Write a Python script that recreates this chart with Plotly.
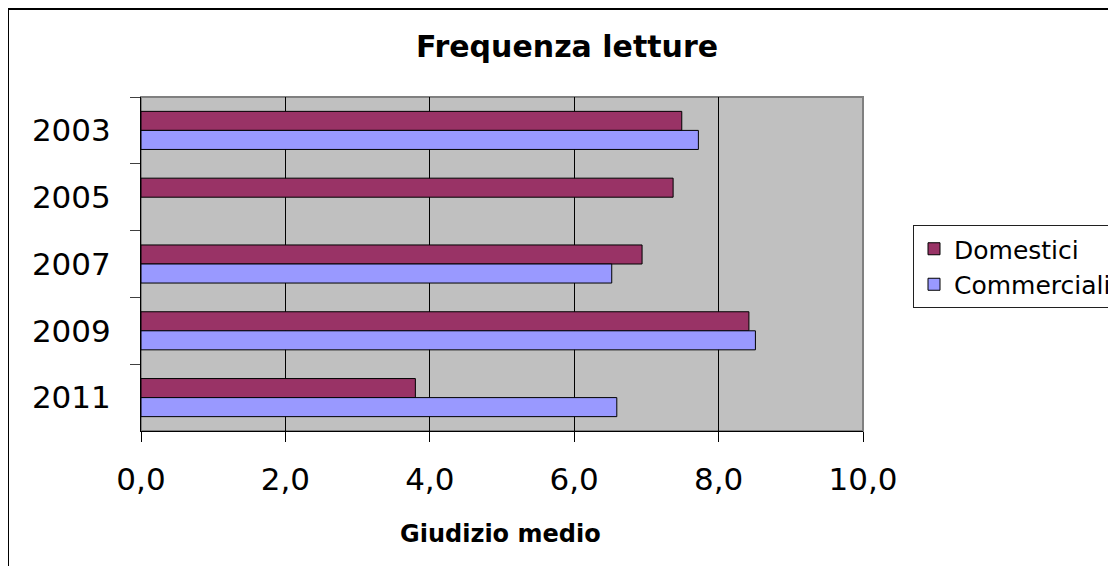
import plotly.graph_objects as go

years = ["2003", "2005", "2007", "2009", "2011"]
domestici = [7.49, 7.37, 6.94, 8.42, 3.80]
commerciali = [7.72, None, 6.52, 8.51, 6.59]
series_names = ["Domestici", "Commerciali"]
x_ticks = [0, 2, 4, 6, 8, 10]

OFF = 8  # default page body margin
W, H = 1116 - OFF, 566 - OFF
L, R, T, B = 141 - OFF, 863 - OFF, 97 - OFF, 431 - OFF  # plot area in figure pixels

def px_x(p):
    return (p - OFF - L) / (R - L)

def px_y(p):
    return (B - (p - OFF)) / (B - T)

FONT = "DejaVu Sans, Verdana, sans-serif"

fig = go.Figure()
fig.add_trace(go.Bar(
    y=years, x=domestici, name=series_names[0], orientation="h",
    marker=dict(color="#993366", line=dict(color="black", width=1)),
))
fig.add_trace(go.Bar(
    y=years, x=commerciali, name=series_names[1], orientation="h",
    marker=dict(color="#9999FF", line=dict(color="black", width=1)),
))

fig.update_layout(
    width=W, height=H,
    margin=dict(l=L, r=W - R, t=T, b=H - B, pad=0, autoexpand=False),
    paper_bgcolor="white",
    plot_bgcolor="#C0C0C0",
    barmode="group",
    bargap=0.43,
    bargroupgap=0,
    separators=",.",
    font=dict(family=FONT, color="black"),
    title=dict(
        text="<b>Frequenza letture</b>",
        x=(567 - OFF) / W, xref="container", xanchor="center",
        y=1 - (46 - OFF) / H, yref="container", yanchor="middle",
        font=dict(size=30, family=FONT, color="black"),
    ),
    xaxis=dict(
        range=[0, 10], tickvals=x_ticks, tickformat=".1f",
        ticks="outside", ticklen=10, tickcolor="black", tickwidth=1,
        showline=True, linecolor="black", linewidth=1,
        showgrid=True, gridcolor="black", gridwidth=1,
        zeroline=False,
        tickfont=dict(size=31, family=FONT, color="black"),
        ticklabelstandoff=11,
    ),
    yaxis=dict(
        type="category", categoryorder="array", categoryarray=years,
        autorange="reversed",
        tickson="boundaries",
        ticks="outside", ticklen=10, tickcolor="#404040", tickwidth=1,
        showline=True, linecolor="black", linewidth=1,
        showgrid=False, zeroline=False,
        tickfont=dict(size=31, family=FONT, color="black"),
        ticklabelstandoff=23,
    ),
    legend=dict(
        x=px_x(913), y=px_y(225), xanchor="left", yanchor="top",
        bgcolor="white", bordercolor="#202020", borderwidth=1,
        font=dict(size=25, family=FONT, color="black"),
        traceorder="normal",
    ),
    showlegend=True,
)

fig.add_annotation(
    text="<b>Giudizio medio</b>", xref="paper", yref="paper",
    x=px_x(500), y=px_y(534), xanchor="center", yanchor="middle",
    showarrow=False, font=dict(size=24, family=FONT, color="black"),
)

# plot area border (gray)
fig.add_shape(type="rect", xref="paper", yref="paper", x0=0, x1=1, y0=0, y1=1,
              line=dict(color="#808080", width=2), layer="below")
# outer chart frame
fig.add_shape(type="rect", xref="paper", yref="paper",
              x0=px_x(8), x1=px_x(1140), y0=px_y(590), y1=px_y(9),
              line=dict(color="black", width=2), fillcolor="rgba(0,0,0,0)")

fig.write_html("out.html")
